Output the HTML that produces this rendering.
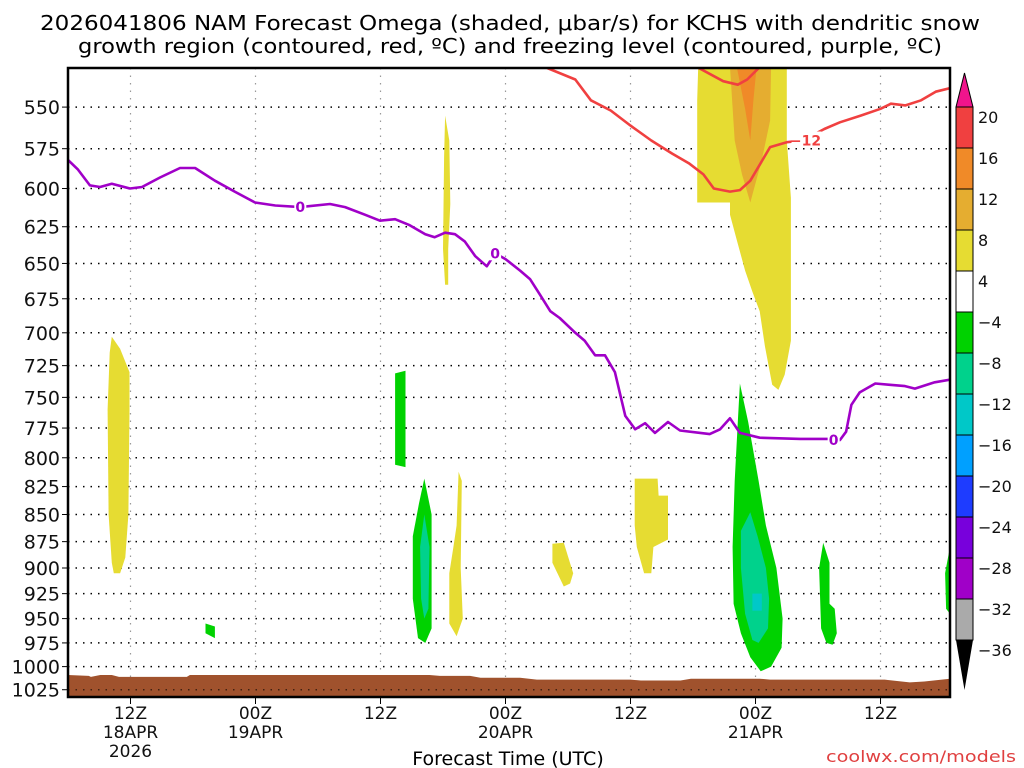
<!DOCTYPE html>
<html><head><meta charset="utf-8"><style>
html,body{margin:0;padding:0;background:#fff;}
svg{display:block;font-family:"DejaVu Sans","Liberation Sans",sans-serif;}
</style></head><body>
<svg id="chart" width="1024" height="768" viewBox="0 0 1024 768" xmlns="http://www.w3.org/2000/svg">
<defs><clipPath id="pc"><rect x="68" y="68" width="882" height="629"/></clipPath></defs>
<text x="40" y="30" font-size="20" textLength="940" lengthAdjust="spacingAndGlyphs">2026041806 NAM Forecast Omega (shaded, μbar/s) for KCHS with dendritic snow</text>
<text x="78" y="53" font-size="20" textLength="864" lengthAdjust="spacingAndGlyphs">growth region (contoured, red, ºC) and freezing level (contoured, purple, ºC)</text>
<g id="grid"></g>
<g id="shade" clip-path="url(#pc)"></g>
<g id="lines" clip-path="url(#pc)"></g>
<g id="axes"></g>
<g id="cbar"></g>
<text x="508" y="765" font-size="19" text-anchor="middle">Forecast Time (UTC)</text>
<text x="1016" y="762" font-size="16" text-anchor="end" fill="#e04040" textLength="190" lengthAdjust="spacingAndGlyphs">coolwx.com/models</text>
</svg>
<script>
const pressureTicks=[550,575,600,625,650,675,700,725,750,775,800,825,850,875,900,925,950,975,1000,1025];
const timeTickHours=[6,18,30,42,54,66,78];
const timeTickLabels=[["12Z","18APR","2026"],["00Z","19APR"],["12Z"],["00Z","20APR"],["12Z"],["00Z","21APR"],["12Z"]];
const freezeHours=[0,0.96,2.1,3.07,4.2,5.95,7.1,8.83,10.75,12.2,14.1,16.0,17.95,19.9,22.3,25.15,26.6,28.5,29.95,31.4,32.8,34.3,35.2,36.2,37.15,38.1,39.1,40.2,41.0,42.0,43.4,44.35,45.3,46.3,47.2,48.7,49.6,50.6,51.55,52.5,53.5,54.45,55.4,56.35,57.6,58.75,60.7,61.6,62.6,63.55,64.5,66.4,70.3,72.96,74.1,74.7,75.2,76.0,77.5,78.9,80.35,81.3,83.2,84.67];
const freezePressure=[582,588,598,599,597,600,599,593,587,587,595,602,609,611,612,610,612,617,621,620,624,630,632,629,630,635,645,652,643,647,655,661,672,684,689,700,706,717,717,730,765,776,771,779,770,777,779,780,776,767,779,783,784,784,785,778,756,746,739,740,741,743,738,736];
const freezeLabels=[[22.3,612],[41.0,643],[73.5,785]];
const dgzHours=[46.0,48.7,50.2,52.1,54.0,56.0,58.0,59.6,61.0,62.0,63.55,64.5,65.5,67.4,69.0,70.5,72.6,74.1,76.1,78.0,79.0,80.4,81.9,83.3,84.67];
const dgzPressure=[527.5,534,546,552,561,570,578,584,591,600,602,601,595,574,571,570,563,559,555,551,548,549,546,541,539];
const dgzTopHours=[60.4,62.9,64.3,65.2,66.4];
const dgzTopPressure=[527,535,537,534,527];
const dgzLabels=[[70.8,570]];
const terrainHours=[0,2,2.2,3.1,4.2,4.9,11.4,11.7,34.7,35.7,38.6,39.6,43.4,45,54,55,58.8,59.8,66.4,67.4,78.4,80.8,82.2,84.67];
const terrainPressure=[1009,1010,1011,1009,1009,1011,1011,1009,1009,1010,1010,1012,1012,1014,1014,1015,1015,1013,1013,1014,1014,1017,1016,1013];
const blobLevels=["y4","y4","g4","g4","t8","y4","y4","y4","g4","g4","t8","t12","g4","g4","y4","o8","o12"];
const blobHours=[
[4.2,5.0,5.9,5.9,5.8,5.5,5.0,4.4,4.2,3.9,3.8,4.0],
[36.2,36.6,36.7,36.5,36.5,36.2,36.0,36.1],
[31.4,32.4,32.4,31.4],
[34.2,34.9,34.9,34.3,33.6,33.1,33.1,33.7],
[34.2,34.7,34.6,34.2,33.9,33.8],
[37.5,37.8,37.7,37.9,37.3,36.6,36.6,37.0,37.3],
[46.5,47.6,48.5,48.2,47.6,46.5],
[54.4,56.6,56.7,57.6,57.6,56.2,56.0,55.3,54.6,54.4],
[13.2,14.1,14.1,13.2],
[64.5,65.3,66.3,67.0,68.0,68.6,68.5,67.5,66.5,65.5,64.6,63.9,63.8,64.0,64.3],
[65.5,66.2,67.0,67.3,67.2,66.3,65.7,65.0,64.6,64.6],
[65.7,66.6,66.6,65.7],
[72.5,73.1,73.1,73.6,73.8,73.4,72.8,72.3,72.1],
[84.67,84.67,84.3,84.2],
[60.5,69.0,69.0,69.4,69.4,68.8,68.2,67.6,66.9,66.4,65.7,65.0,64.2,63.55,63.55,61.8,60.4,60.4],
[63.55,67.5,67.4,66.6,65.5,64.7,64.0],
[64.2,66.1,65.8,65.5,65.0]
];
const blobPressure=[
[703,712,730,760,850,890,905,905,895,850,760,715],
[555,570,610,640,665,665,640,580],
[731,729,808,806],
[818,850,960,975,970,930,870,840],
[850,880,940,950,930,880],
[812,820,900,950,968,955,905,880,860],
[877,876,905,915,918,895],
[818,818,833,833,873,880,905,905,880,860],
[955,958,970,965],
[739,770,820,860,900,950,980,1000,1005,990,965,935,880,820,770],
[848,870,900,930,960,975,972,945,900,865],
[925,925,942,942],
[876,895,935,940,965,977,975,960,900],
[880,945,940,905],
[527,527,570,606,706,732,744,740,710,684,670,655,634,617,609,609,609,546],
[527,527,558,582,609,591,570],
[527,527,546,570,551]
];
const cbarLabels=["20","16","12","8","4","−4","−8","−12","−16","−20","−24","−28","−32","−36"];
const cbarColors=["#f04040","#f08a28","#e5ad30","#e6dc32","#ffffff","#00d200","#00d28c","#00c8c8","#00a0ff","#1e3cff","#7800dc","#a000c8","#aaaaaa"];
const levelColors={y4:"#e6dc32",o8:"#e5ad30",o12:"#f08a28",g4:"#00d200",t8:"#00d28c",t12:"#00c8c8"};

const NS="http://www.w3.org/2000/svg";
const X0=68,X1=950,Y0=68,Y1=697,HMAX=84.67,PMIN=527.5,PMAX=1033;
function xs(h){return X0+h/HMAX*(X1-X0);}
function ys(p){return Y0+Math.log(p/PMIN)/Math.log(PMAX/PMIN)*(Y1-Y0);}
function mk(tag,attrs,parent){const e=document.createElementNS(NS,tag);for(const k in attrs)e.setAttribute(k,attrs[k]);parent.appendChild(e);return e;}
const grid=document.getElementById('grid'),shade=document.getElementById('shade'),lines=document.getElementById('lines'),axes=document.getElementById('axes'),cbar=document.getElementById('cbar');

pressureTicks.forEach(p=>{
  const l=mk('line',{x1:X0,x2:X1,y1:ys(p),y2:ys(p),stroke:'#000','stroke-width':1.5,'stroke-dasharray':'1.5 6'},grid);
  
  
  const t=mk('line',{x1:X0-6,x2:X0,y1:ys(p),y2:ys(p),stroke:'#000','stroke-width':1},axes);
  
  
  const tx=mk('text',{x:60,y:ys(p)+7,'font-size':19,'text-anchor':'end',fill:'#111'},axes);
  tx.textContent=p;
  
  
});
timeTickHours.forEach((h,i)=>{
  const l=mk('line',{x1:xs(h),x2:xs(h),y1:Y0,y2:Y1,stroke:'#999','stroke-width':1.2,'stroke-dasharray':'1.5 6'},grid);
  
  
  const t=mk('line',{x1:xs(h),x2:xs(h),y1:Y1,y2:Y1+7,stroke:'#000','stroke-width':1},axes);
  
  
  timeTickLabels[i].forEach((s,j)=>{
    const tx=mk('text',{x:xs(h),y:719+j*19,'font-size':17,'text-anchor':'middle',fill:'#111'},axes);
    tx.textContent=s;
    
    
  });
});
blobHours.forEach((hs,i)=>{
  const pts=hs.map((h,j)=>xs(h).toFixed(1)+','+ys(blobPressure[i][j]).toFixed(1)).join(' ');
  const pg=mk('polygon',{points:pts,fill:levelColors[blobLevels[i]]},shade);
  
  
});
{
  let d='M'+xs(terrainHours[0])+','+ys(PMAX);
  terrainHours.forEach((h,i)=>{d+=' L'+xs(h).toFixed(1)+','+ys(terrainPressure[i]).toFixed(1);});
  d+=' L'+xs(terrainHours[terrainHours.length-1])+','+ys(PMAX)+'Z';
  const tp=mk('path',{d:d,fill:'#a0522d'},shade);
  
  
  pressureTicks.slice(-1).forEach(p=>{mk('line',{x1:X0,x2:X1,y1:ys(p),y2:ys(p),stroke:'#000','stroke-width':1.5,'stroke-dasharray':'1.5 6',opacity:0.6},shade);});
}
function line(hs,ps,color,name){
  const pts=hs.map((h,i)=>xs(h).toFixed(1)+','+ys(ps[i]).toFixed(1)).join(' ');
  const pl=mk('polyline',{points:pts,fill:'none',stroke:color,'stroke-width':2.6,'stroke-linejoin':'round'},lines);
  
  
}
line(dgzHours,dgzPressure,'#f04040','dgz-minus12-contour');
line(dgzTopHours,dgzTopPressure,'#f04040','dgz-minus12-contour-top');
line(freezeHours,freezePressure,'#a000c8','freezing-level-contour');
freezeLabels.forEach(([h,p])=>{
  mk('rect',{x:xs(h)-6,y:ys(p)-9,width:12,height:16,fill:'#fff'},lines);
  const t=mk('text',{x:xs(h),y:ys(p)+5,'font-size':14,'font-weight':'bold','text-anchor':'middle',fill:'#a000c8'},lines);
  t.textContent='0';
  
  
});
dgzLabels.forEach(([h,p])=>{
  mk('rect',{x:xs(h)-14,y:ys(p)-9,width:30,height:16,fill:'#fff'},lines);
  const t=mk('text',{x:xs(h),y:ys(p)+5,'font-size':14,'font-weight':'bold','text-anchor':'middle',fill:'#f04040'},lines);
  t.textContent='−12';
  
  
});
{
  const fr=mk('rect',{x:X0,y:Y0,width:X1-X0,height:Y1-Y0,fill:'none',stroke:'#000','stroke-width':2.5},axes);
  
  
}
const CX=956,CW=17,CT=107,CH=41;
{
  const up=mk('polygon',{points:`${CX},${CT} ${CX+CW},${CT} ${CX+CW/2},${CT-34}`,fill:'#f0148c',stroke:'#000','stroke-width':1},cbar);
  
  
  cbarColors.forEach((c,i)=>{
    const r=mk('rect',{x:CX,y:CT+i*CH,width:CW,height:CH,fill:c,stroke:'#000','stroke-width':1},cbar);
    
    
  });
  const yb=CT+cbarColors.length*CH;
  const dn=mk('polygon',{points:`${CX},${yb} ${CX+CW},${yb} ${CX+CW/2},${yb+50}`,fill:'#000'},cbar);
  
  
  cbarLabels.forEach((s,i)=>{
    const t=mk('text',{x:978,y:CT+i*CH+16,'font-size':16,fill:'#111'},cbar);
    t.textContent=s;
    
    
  });
}
</script>
</body></html>
